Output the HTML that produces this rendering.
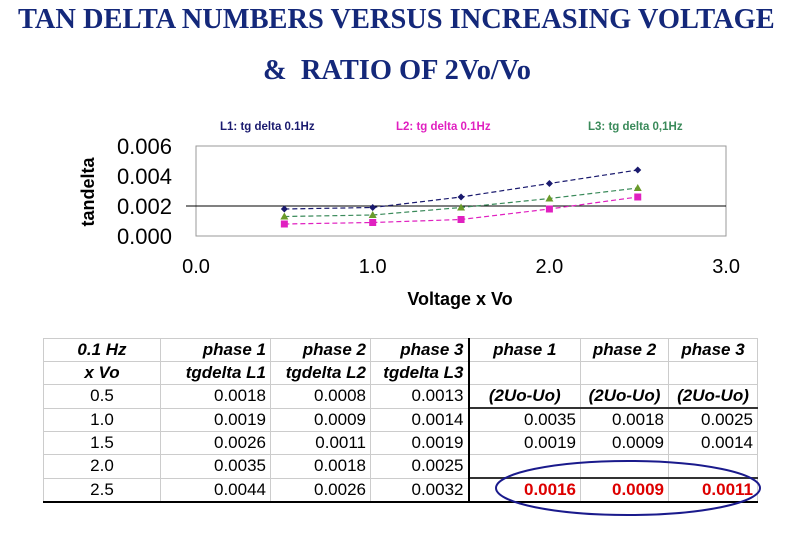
<!DOCTYPE html>
<html><head><meta charset="utf-8">
<style>
body{margin:0;background:#fff;width:792px;height:540px;overflow:hidden;position:relative;font-family:"Liberation Sans",sans-serif}
.t{position:absolute;font-family:"Liberation Serif",serif;font-weight:bold;font-size:29px;color:#14287a;white-space:nowrap;transform-origin:0 0}
table{position:absolute;left:43px;top:338px;border-collapse:collapse;font-size:17px;table-layout:fixed;width:714px}
td{border:1px solid #ccc;height:22px;padding:0 4px;text-align:right;overflow:hidden;white-space:nowrap}
td.c{text-align:center}
td.b{font-weight:bold;font-style:italic}
.r{color:#d00;font-weight:bold}
</style></head><body>
<div class="t" style="left:18px;top:3px;transform:scaleX(0.98)">TAN DELTA NUMBERS VERSUS INCREASING VOLTAGE</div>
<div class="t" style="left:263px;top:54px;transform:scaleX(0.98)">&amp; &nbsp;RATIO OF 2Vo/Vo</div>
<svg id="ch" width="792" height="330" style="position:absolute;left:0;top:0" font-family="Liberation Sans, sans-serif"></svg>
<table>
<colgroup><col style="width:117px"><col style="width:110px"><col style="width:100px"><col style="width:98px"><col style="width:112px"><col style="width:88px"><col style="width:89px"></colgroup>
<tr><td class="c b">0.1 Hz</td><td class="b">phase 1</td><td class="b">phase 2</td><td class="b" style="border-right:2px solid #000">phase 3</td><td class="c b">phase 1</td><td class="c b">phase 2</td><td class="c b">phase 3</td></tr>
<tr><td class="c b">x Vo</td><td class="b">tgdelta L1</td><td class="b">tgdelta L2</td><td class="b" style="border-right:2px solid #000">tgdelta L3</td><td></td><td></td><td></td></tr>
<tr><td class="c">0.5</td><td>0.0018</td><td>0.0008</td><td style="border-right:2px solid #000">0.0013</td><td class="c b" style="border-bottom:2px solid #333">(2Uo-Uo)</td><td class="c b" style="border-bottom:2px solid #333">(2Uo-Uo)</td><td class="c b" style="border-bottom:2px solid #333">(2Uo-Uo)</td></tr>
<tr><td class="c">1.0</td><td>0.0019</td><td>0.0009</td><td style="border-right:2px solid #000">0.0014</td><td>0.0035</td><td>0.0018</td><td>0.0025</td></tr>
<tr><td class="c">1.5</td><td>0.0026</td><td>0.0011</td><td style="border-right:2px solid #000">0.0019</td><td>0.0019</td><td>0.0009</td><td>0.0014</td></tr>
<tr><td class="c">2.0</td><td>0.0035</td><td>0.0018</td><td style="border-right:2px solid #000">0.0025</td><td style="border-bottom:2px solid #333"></td><td style="border-bottom:2px solid #333"></td><td style="border-bottom:2px solid #333"></td></tr>
<tr style="border-bottom:2px solid #000"><td class="c">2.5</td><td>0.0044</td><td>0.0026</td><td style="border-right:2px solid #000">0.0032</td><td class="r">0.0016</td><td class="r">0.0009</td><td class="r">0.0011</td></tr>
</table>
<svg width="792" height="540" style="position:absolute;left:0;top:0;pointer-events:none"><ellipse cx="628" cy="488" rx="132" ry="27" fill="none" stroke="#1a1a8c" stroke-width="2"/></svg>
<script>
const xs=[0.5,1.0,1.5,2.0,2.5];
const L1=[0.0018,0.0019,0.0026,0.0035,0.0044];
const L2=[0.0008,0.0009,0.0011,0.0018,0.0026];
const L3=[0.0013,0.0014,0.0019,0.0025,0.0032];
const yTicks=["0.000","0.002","0.004","0.006"];
const xTicks=["0.0","1.0","2.0","3.0"];
const X=v=>196+v*176.7, Y=v=>236-v*15000;
const s=document.getElementById('ch'),N="http://www.w3.org/2000/svg";
function mk(t,a,txt){const e=document.createElementNS(N,t);for(const k in a)e.setAttribute(k,a[k]);if(txt!=null)e.textContent=txt;s.appendChild(e);return e;}
let e=mk('rect',{x:196,y:146,width:530,height:90,fill:'none',stroke:'#999'});


e=mk('line',{x1:186,x2:726,y1:Y(0.002),y2:Y(0.002),stroke:'#000'});


yTicks.forEach(t=>{const el=mk('text',{x:172,y:Y(+t)+8,'font-size':22,'text-anchor':'end'},t);

});
xTicks.forEach(t=>{const el=mk('text',{x:X(+t),y:273,'font-size':20,'text-anchor':'middle'},t);

});
e=mk('text',{x:460,y:305,'font-size':18,'font-weight':'bold','text-anchor':'middle'},'Voltage x Vo');


e=mk('text',{x:0,y:0,'font-size':18,'font-weight':'bold','text-anchor':'middle',transform:'translate(94,192) rotate(-90)'},'tandelta');


const ser=[[L1,'#1a1a6e','L1: tg delta 0.1Hz',220,'d'],[L3,'#3a8a5a','L3: tg delta 0,1Hz',588,'t'],[L2,'#e020c0','L2: tg delta 0.1Hz',396,'s']];
ser.forEach(([d,c,lab,lx,m],i)=>{
 const p=xs.map((x,j)=>X(x)+','+Y(d[j])).join(' ');
 const pl=mk('polyline',{points:p,fill:'none',stroke:c,'stroke-width':1.2,'stroke-dasharray':'5,3'});
 
 
 xs.forEach((x,j)=>{const cx=X(x),cy=Y(d[j]);let mm;
  if(m=='d')mm=mk('polygon',{points:`${cx},${cy-3.5} ${cx+3.5},${cy} ${cx},${cy+3.5} ${cx-3.5},${cy}`,fill:c});
  else if(m=='s')mm=mk('rect',{x:cx-3.5,y:cy-3.5,width:7,height:7,fill:c});
  else mm=mk('polygon',{points:`${cx},${cy-4} ${cx+4},${cy+3} ${cx-4},${cy+3}`,fill:'#6a9a2a'});
  
  });
 const t=mk('text',{x:lx,y:130,'font-size':11.5,'font-weight':'bold',fill:c},lab);
 
 
});
</script>
</body></html>
